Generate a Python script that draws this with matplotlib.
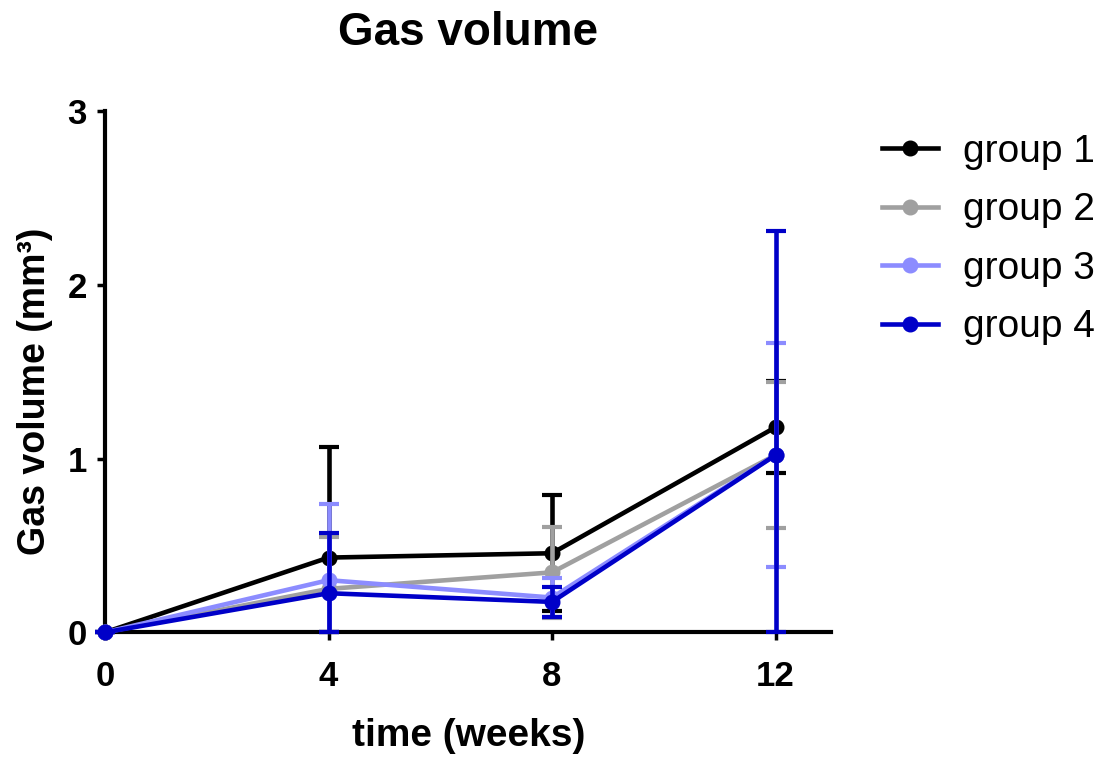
import matplotlib
matplotlib.use("Agg")
import matplotlib.pyplot as plt
from matplotlib.lines import Line2D

plt.rcParams['font.family'] = ['Liberation Sans', 'DejaVu Sans']

# data
weeks = [0, 4, 8, 12]
labels = ['group 1', 'group 2', 'group 3', 'group 4']
g1 = [0, 0.43, 0.455, 1.18]
g1_err = [0, 0.635, 0.335, 0.265]
g2 = [0, 0.25, 0.345, 1.02]
g2_err = [0, 0.30, 0.26, 0.42]
g3 = [0, 0.30, 0.20, 1.02]
g3_err = [0, 0.44, 0.11, 0.645]
g4 = [0, 0.225, 0.175, 1.02]
g4_err = [0, 0.345, 0.085, 1.29]
colors = ['#000000', '#a0a0a0', '#8c8cff', '#0000c8']

fig = plt.figure(figsize=(11.09, 7.6), dpi=100)
ax = fig.add_axes([0.0947, 0.168, 0.655, 0.686])

series = [(g1, g1_err), (g2, g2_err), (g3, g3_err), (g4, g4_err)]
for i, (vals, err) in enumerate(series):
    # clip lower bars at zero like Prism does
    lower = [min(e, v) for v, e in zip(vals, err)]
    ax.errorbar(weeks, vals, yerr=[lower, err], color=colors[i], lw=3.3,
                marker='o', ms=10.5, capsize=7, capthick=3, elinewidth=3.3,
                clip_on=False, zorder=3 + i)

ax.set_xlim(0, 13)
ax.set_ylim(0, 3)
ax.set_xticks([0, 4, 8, 12])
ax.set_yticks([0, 1, 2, 3])
for s in ['top', 'right']:
    ax.spines[s].set_visible(False)
for s in ['left', 'bottom']:
    ax.spines[s].set_linewidth(3)
ax.tick_params(direction='out', length=6, width=2.5, labelsize=25)
ax.tick_params(axis='x', pad=14)
ax.tick_params(axis='y', pad=7)
for t in ax.get_xticklabels() + ax.get_yticklabels():
    t.set_fontweight('bold')

ax.set_xlabel('time (weeks)', fontsize=28, fontweight='bold')
ax.xaxis.set_label_coords(0.5, -0.198)
ax.xaxis.label.set_va('center')
ax.set_ylabel('Gas volume (mm³)', fontsize=27, fontweight='bold')
ax.yaxis.set_label_coords(-0.096, 0.462)
ax.yaxis.label.set_va('center')
ax.set_title('Gas volume', fontsize=33, fontweight='bold', y=1.1497, pad=0,
             va='center')

handles = [Line2D([], [], color=c, lw=3.3, marker='o', ms=10.5) for c in colors]
fig.legend(handles, labels, loc='upper left', bbox_to_anchor=(0.795, 0.824),
           frameon=False, fontsize=28, handlelength=1.45, handletextpad=0.65,
           labelspacing=0.58, borderpad=0, borderaxespad=0)

plt.savefig('out.png', dpi=100)
